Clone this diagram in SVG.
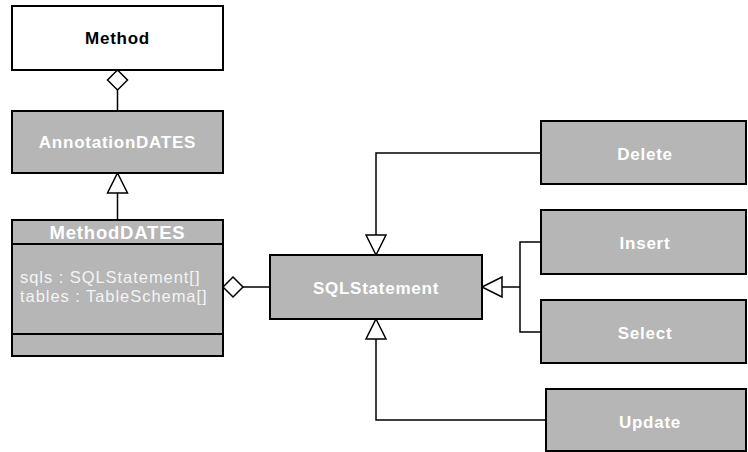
<svg xmlns="http://www.w3.org/2000/svg" width="748" height="452" viewBox="0 0 748 452">
  <style>
    .box { fill: #b6b6b6; stroke: #000; stroke-width: 2; }
    .plain { fill: #fff; stroke: #000; stroke-width: 2; }
    .title { font-family: "Liberation Sans", Arial, sans-serif; font-weight: bold; font-size: 17px; letter-spacing: 0.75px; fill: #fff; text-anchor: middle; }
    .dark { fill: #000; }
    .attr { font-family: "Liberation Sans", Arial, sans-serif; font-size: 16.5px; letter-spacing: 0.95px; fill: #f4f4f4; }
    .line { fill: none; stroke: #000; stroke-width: 1.5; }
    .head { fill: #fff; stroke: #000; stroke-width: 1.5; }
  </style>

  <!-- connectors -->
  <g id="connectors">
    <!-- Method <>— AnnotationDATES -->
    <line class="line" x1="117.5" y1="90" x2="117.5" y2="111"/>
    <polygon class="head" points="117.5,70 127.5,80 117.5,90 107.5,80"/>
    <!-- MethodDATES —|> AnnotationDATES -->
    <line class="line" x1="117.5" y1="193" x2="117.5" y2="220"/>
    <polygon class="head" points="117.5,173 127.5,193 107.5,193"/>
    <!-- MethodDATES <>— SQLStatement -->
    <line class="line" x1="243" y1="287" x2="270" y2="287"/>
    <polygon class="head" points="223,287 233,277 243,287 233,297"/>
    <!-- Delete —|> SQLStatement -->
    <polyline class="line" points="541,153 376,153 376,235"/>
    <polygon class="head" points="376,255 366,235 386,235"/>
    <!-- Insert / Select —|> SQLStatement -->
    <polyline class="line" points="541,242 520,242 520,332 541,332"/>
    <line class="line" x1="502" y1="287" x2="520" y2="287"/>
    <polygon class="head" points="482,287 502,277 502,297"/>
    <!-- Update —|> SQLStatement -->
    <polyline class="line" points="546,420 376,420 376,339"/>
    <polygon class="head" points="376,319 386,339 366,339"/>
  </g>

  <g id="Method">
    <rect class="plain" x="12" y="6" width="211" height="64"/>
    <text class="title dark" x="117.5" y="44">Method</text>
  </g>

  <g id="AnnotationDATES">
    <rect class="box" x="12" y="111" width="211" height="62"/>
    <text class="title" x="117.5" y="148">AnnotationDATES</text>
  </g>

  <g id="MethodDATES">
    <rect class="box" x="12" y="220" width="211" height="136"/>
    <line class="line" x1="12" y1="244" x2="223" y2="244" style="stroke-width:2"/>
    <line class="line" x1="12" y1="334" x2="223" y2="334" style="stroke-width:2"/>
    <text class="title" x="117.5" y="238.5" style="font-size:18.5px;letter-spacing:0.8px">MethodDATES</text>
    <text class="attr" x="20" y="283">sqls : SQLStatement[]</text>
    <text class="attr" x="20" y="301.5">tables : TableSchema[]</text>
  </g>

  <g id="SQLStatement">
    <rect class="box" x="270" y="255" width="212" height="64"/>
    <text class="title" x="376" y="294">SQLStatement</text>
  </g>

  <g id="Delete">
    <rect class="box" x="541" y="121" width="205" height="63"/>
    <text class="title" x="645" y="160">Delete</text>
  </g>

  <g id="Insert">
    <rect class="box" x="541" y="210" width="205" height="64"/>
    <text class="title" x="645" y="249">Insert</text>
  </g>

  <g id="Select">
    <rect class="box" x="541" y="300" width="205" height="63"/>
    <text class="title" x="645" y="339">Select</text>
  </g>

  <g id="Update">
    <rect class="box" x="546" y="389" width="200" height="62"/>
    <text class="title" x="650" y="428">Update</text>
  </g>
</svg>
